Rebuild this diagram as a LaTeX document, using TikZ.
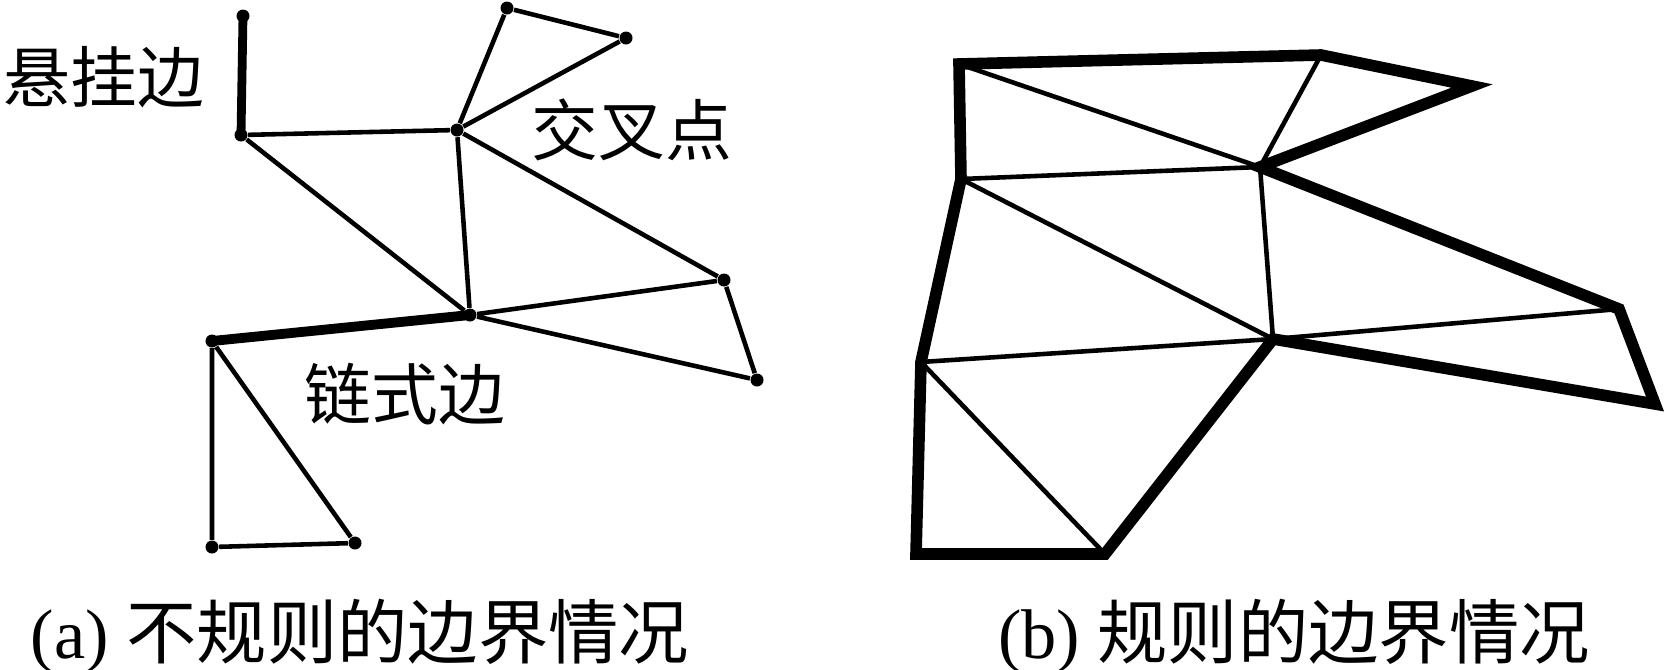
\documentclass[tikz,border=0pt]{standalone}
\usepackage{fontspec}
\setmainfont{Liberation Serif}
\newfontfamily\cjk{Noto Sans CJK SC}
\usetikzlibrary{positioning}
\tikzset{
  dot/.style={circle,fill=black,inner sep=0pt,minimum size=1.3mm},
  thinedge/.style={line width=1.3pt},
  hangedge/.style={line width=2.5pt},
  chainedge/.style={line width=2.8pt},
  bound/.style={line width=3.3pt,line join=miter},
  lbl/.style={font=\cjk\fontsize{19}{22}\selectfont,inner sep=0pt},
  captext/.style={font=\fontsize{20}{24}\selectfont,inner sep=0pt}
}

\begin{document}
\begin{tikzpicture}[x=0.01cm,y=-0.01cm]
  \useasboundingbox (0,0) rectangle (1670,669);

  % (a) irregular boundary
  \node[dot] (H)  at (243,16)  {};
  \node[dot] (A)  at (241,135) {};
  \node[dot] (X)  at (457,130) {};
  \node[dot] (T1) at (507,8)   {};
  \node[dot] (T2) at (626,38)  {};
  \node[dot] (C)  at (470,315) {};
  \node[dot] (L)  at (212,341) {};
  \node[dot] (R1) at (724,280) {};
  \node[dot] (R2) at (757,380) {};
  \node[dot] (BL) at (212,547) {};
  \node[dot] (BR) at (355,543) {};

  \draw[hangedge] (H.center) -- (A.center);
  \draw[chainedge] (L.center) -- (C.center);
  \draw[thinedge] (A) -- (X) -- (T1) -- (T2) -- (X);
  \draw[thinedge] (A) -- (C) -- (X) -- (R1) -- (C) -- (R2) -- (R1);
  \draw[thinedge] (L) -- (BL) -- (BR) -- (L);

  \node[lbl] (hang)  at (104,77)  {悬挂边};
  \node[lbl] (cross) at (632,130) {交叉点};
  \node[lbl] (chain) at (405,394) {链式边};

  % (b) regular boundary
  \coordinate (P1)  at (959,64);
  \coordinate (P2)  at (1321,55);
  \coordinate (P3)  at (1472,86);
  \coordinate (P4)  at (1260,167);
  \coordinate (P5)  at (961,179);
  \coordinate (P6)  at (1273,339);
  \coordinate (P7)  at (1619,309);
  \coordinate (P8)  at (1655,404);
  \coordinate (P9)  at (921,362);
  \coordinate (P10) at (916,554);
  \coordinate (P11) at (1105,554);

  \draw[thinedge] (P1) -- (P4) -- (P2);
  \draw[thinedge] (P5) -- (P4) -- (P6) -- (P5);
  \draw[thinedge] (P6) -- (P7);
  \draw[thinedge] (P9) -- (P6);
  \draw[thinedge] (P9) -- (P11);
  \draw[bound] (P5) -- (P1) -- (P2) -- (P3) -- (P4) -- (P7) -- (P8) -- (P6)
    -- (P11) -- (P10) -- (P9) -- cycle;

  % captions
  \node[captext] (capa) at (360,636) {(a) {\cjk 不规则的边界情况}};
  \node[captext] (capb) at (1294,636) {(b) {\cjk 规则的边界情况}};
\end{tikzpicture}
\end{document}
